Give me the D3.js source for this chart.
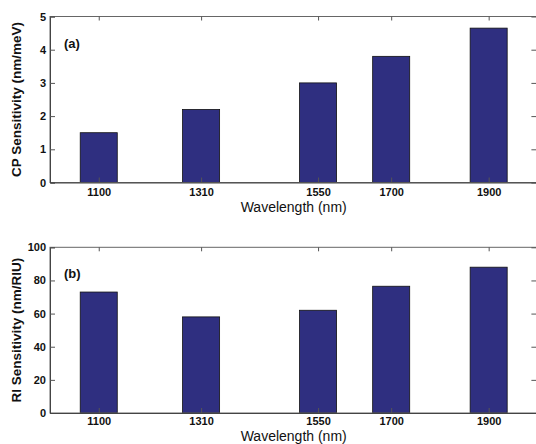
<!DOCTYPE html>
<html><head><meta charset="utf-8">
<script src="https://cdn.jsdelivr.net/npm/d3@7"></script>
<style>body{margin:0;background:#fff;}svg{display:block;font-family:"Liberation Sans",Arial,sans-serif;}</style>
</head><body>
<svg id="c" width="536" height="444"></svg>
<script>
const wavelengths = [1100, 1310, 1550, 1700, 1900];
const cpSensitivity = [1.5, 2.2, 3.0, 3.8, 4.65];
const riSensitivity = [73, 58, 62, 76.5, 88];
const cpTicks = [0, 1, 2, 3, 4, 5];
const riTicks = [0, 20, 40, 60, 80, 100];

const svg = d3.select("#c");
const x = d3.scaleLinear().domain([1000, 2000]).range([50, 537.4]);
const barW = 76;

function panel(values, yMax, ticks, top, bottom, yTitle, tag, xTitleY, pad) {
  const y = d3.scaleLinear().domain([0, yMax]).range([bottom, top]);
  const g = svg.append("g");
  // bars
  g.selectAll("rect.bar").data(values).join("rect")
    .attr("x", (d, i) => x(wavelengths[i] - barW / 2))
    .attr("width", (d, i) => x(wavelengths[i] + barW / 2) - x(wavelengths[i] - barW / 2))
    .attr("y", d => y(d))
    .attr("height", d => y(0) - y(d))
    .attr("fill", "#2f2f80")
    .attr("stroke", "#111")
    .attr("stroke-width", 0.8);
  // box
  g.append("rect").attr("x", x(1000)).attr("y", y(yMax))
    .attr("width", x(2000) - x(1000)).attr("height", y(0) - y(yMax))
    .attr("fill", "none").attr("stroke", "#666").attr("stroke-width", 1);
  // left axis
  const yl = d3.axisLeft(y).tickValues(ticks).tickSize(-5).tickPadding(4).tickFormat(d3.format("d"));
  const ya = g.append("g").attr("transform", `translate(${x(1000)},0)`).call(yl);
  ya.select(".domain").attr("stroke", "#444");
  ya.selectAll(".tick line").attr("stroke", "#555");
  ya.selectAll("text").attr("font-size", 11).attr("font-weight", "bold").attr("fill", "#111");
  // right axis
  const yr = d3.axisRight(y).tickValues(ticks).tickSize(-6).tickFormat("");
  const yra = g.append("g").attr("transform", `translate(${x(2000)},0)`).call(yr);
  yra.select(".domain").remove();
  yra.selectAll(".tick line").attr("stroke", "#555");
  // bottom axis
  const xb = d3.axisBottom(x).tickValues(wavelengths).tickSize(-5).tickPadding(pad).tickFormat(d3.format("d"));
  const xa = g.append("g").attr("transform", `translate(0,${y(0)})`).call(xb);
  xa.select(".domain").attr("stroke", "#444");
  xa.selectAll(".tick line").attr("stroke", "#555");
  xa.selectAll("text").attr("font-size", 11).attr("font-weight", "bold").attr("fill", "#111");
  // top axis
  const xt = d3.axisTop(x).tickValues(wavelengths).tickSize(-4).tickFormat("");
  const xta = g.append("g").attr("transform", `translate(0,${y(yMax)})`).call(xt);
  xta.select(".domain").remove();
  xta.selectAll(".tick line").attr("stroke", "#555");
  // titles
  g.append("text").attr("x", x(1500)).attr("y", xTitleY).attr("text-anchor", "middle")
    .attr("font-size", 14).attr("fill", "#111").text("Wavelength (nm)");
  g.append("text").attr("transform", `translate(21,${(top + bottom) / 2}) rotate(-90)`)
    .attr("text-anchor", "middle").attr("font-size", 13.5).attr("font-weight", "bold").attr("fill", "#111")
    .text(yTitle);
  g.append("text").attr("x", 64).attr("y", top + 31).attr("font-size", 13).attr("font-weight", "bold")
    .attr("fill", "#111").text(tag);
}

panel(cpSensitivity, 5, cpTicks, 16.5, 182.5, "CP Sensitivity (nm/meV)", "(a)", 212, 6);
panel(riSensitivity, 100, riTicks, 247.3, 413, "RI Sensitivity (nm/RIU)", "(b)", 441, 4);
</script>
</body></html>
